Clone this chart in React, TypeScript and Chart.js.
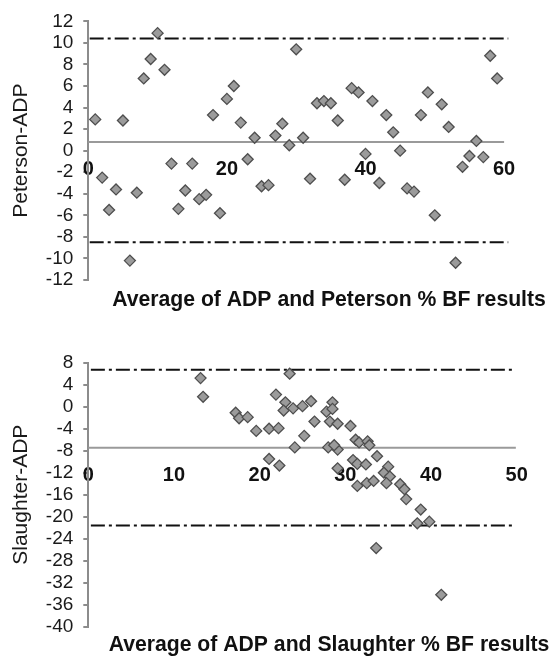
import React, { useEffect, useRef } from 'react';
import { Chart, registerables } from 'chart.js';

Chart.register(...registerables);

const FONT = "'Liberation Sans', Arial, Helvetica, sans-serif";

// ---- Peterson vs ADP (Bland-Altman) ----
const petersonAvg = [
  1, 2, 3, 4, 5, 6, 7, 8, 9, 10, 11, 12, 13, 14, 15, 16, 17, 18, 19, 20,
  21, 22, 23, 24, 25, 26, 27, 28, 29, 30, 31, 32, 33, 34, 35, 36, 37, 38, 39, 40,
  41, 42, 43, 44, 45, 46, 47, 48, 49, 50, 51, 52, 53, 54, 55, 56, 57, 58, 59,
];
const petersonDiff = [
  2.9, -2.5, -5.5, -3.6, 2.8, -10.2, -3.9, 6.7, 8.5, 10.9, 7.5, -1.2, -5.4, -3.7, -1.2, -4.5, -4.1, 3.3, -5.8, 4.8,
  6.0, 2.6, -0.8, 1.2, -3.3, -3.2, 1.4, 2.5, 0.5, 9.4, 1.2, -2.6, 4.4, 4.6, 4.4, 2.8, -2.7, 5.8, 5.4, -0.3,
  4.6, -3.0, 3.3, 1.7, 0.0, -3.5, -3.8, 3.3, 5.4, -6.0, 4.3, 2.2, -10.4, -1.5, -0.5, 0.9, -0.6, 8.8, 6.7,
];
const petersonMean = 0.8;
const petersonUpper = 10.4;
const petersonLower = -8.5;
const petersonMeanSpan = [0, 60];
const petersonLimitSpan = [0.2, 60.6];

// ---- Slaughter vs ADP (Bland-Altman) ----
const slaughterAvg = [
  13.1, 13.4, 17.2, 17.6, 18.6, 19.6, 21.1, 22.2, 21.1, 22.3, 21.9, 23.5, 23.0, 22.8, 23.9, 25.0, 26.0, 26.4,
  25.2, 24.1, 28.0, 27.8, 28.5, 28.5, 28.2, 29.1, 29.1, 28.7, 29.1, 30.6, 31.2, 31.6, 32.6, 32.8, 30.9, 31.4,
  32.4, 33.7, 31.4, 32.5, 33.3, 35.0, 34.5, 35.2, 34.8, 36.4, 36.9, 37.1, 38.8, 38.4, 39.8, 33.6, 41.2,
];
const slaughterDiff = [
  5.2, 1.8, -1.1, -2.1, -1.9, -4.4, -4.0, -3.9, -9.5, -10.7, 2.2, 6.0, 0.8, -0.7, -0.3, 0.1, 1.0, -2.7,
  -5.3, -7.4, -7.4, -0.9, 0.8, -0.4, -2.7, -3.1, -7.8, -7.0, -11.2, -3.5, -6.0, -6.5, -6.3, -7.0, -9.7, -10.4,
  -10.5, -9.0, -14.4, -13.9, -13.5, -10.9, -12.0, -12.7, -13.9, -14.1, -15.0, -16.8, -18.7, -21.2, -20.9, -25.7, -34.2,
];
const slaughterMean = -7.45;
const slaughterUpper = 6.7;
const slaughterLower = -21.6;
const slaughterMeanSpan = [0, 49.9];
const slaughterLimitSpan = [0.3, 49.6];

const panels = [
  {
    key: 'peterson',
    height: 320,
    avg: petersonAvg,
    diff: petersonDiff,
    mean: petersonMean,
    upper: petersonUpper,
    lower: petersonLower,
    meanSpan: petersonMeanSpan,
    limitSpan: petersonLimitSpan,
    x: { min: 0, max: 60, step: 20, cross: 0 },
    y: { min: -12, max: 12, step: 2 },
    yTitle: 'Peterson-ADP',
    xTitle: 'Average of ADP and Peterson % BF results',
    padding: { top: 21.3, right: 49.9, bottom: 40, left: 0 },
    captionY: 306,
  },
  {
    key: 'slaughter',
    height: 337,
    avg: slaughterAvg,
    diff: slaughterDiff,
    mean: slaughterMean,
    upper: slaughterUpper,
    lower: slaughterLower,
    meanSpan: slaughterMeanSpan,
    limitSpan: slaughterLimitSpan,
    x: { min: 0, max: 50, step: 10, cross: -9 },
    y: { min: -40, max: 8, step: 4 },
    yTitle: 'Slaughter-ADP',
    xTitle: 'Average of ADP and Slaughter % BF results',
    padding: { top: 42.7, right: 37.3, bottom: 30.3, left: 0 },
    captionY: 331,
  },
];

// Bold caption under the plot, centred a little to the right of the plot area
const axisCaption = {
  id: 'axisCaption',
  afterDraw(chart: any, _args: any, opts: any) {
    const { ctx } = chart;
    ctx.save();
    ctx.font = `bold ${opts.size}px ${FONT}`;
    ctx.fillStyle = opts.color;
    ctx.textAlign = 'center';
    ctx.textBaseline = 'alphabetic';
    ctx.fillText(opts.text, opts.x, opts.y);
    ctx.restore();
  },
};

const zeroPadding = (scale: any) => {
  scale.paddingLeft = 0;
  scale.paddingRight = 0;
  scale.paddingTop = 0;
  scale.paddingBottom = 0;
};

function hLine(span: number[], value: number) {
  return [
    { x: span[0], y: value },
    { x: span[1], y: value },
  ];
}

function buildConfig(p: any): any {
  const points = p.avg.map((v: number, i: number) => ({ x: v, y: p.diff[i] }));
  return {
    type: 'scatter',
    data: {
      datasets: [
        {
          type: 'line',
          data: hLine(p.meanSpan, p.mean),
          borderColor: '#9a9a9a',
          borderWidth: 2,
          pointRadius: 0,
          clip: false,
          order: 3,
        },
        {
          type: 'line',
          data: hLine(p.limitSpan, p.upper),
          borderColor: '#111111',
          borderWidth: 2,
          borderDash: [14, 4, 3, 4],
          pointRadius: 0,
          clip: false,
          order: 2,
        },
        {
          type: 'line',
          data: hLine(p.limitSpan, p.lower),
          borderColor: '#111111',
          borderWidth: 2,
          borderDash: [14, 4, 3, 4],
          pointRadius: 0,
          clip: false,
          order: 2,
        },
        {
          type: 'scatter',
          data: points,
          pointStyle: 'rectRot',
          pointRadius: 5.5,
          backgroundColor: '#9b9b9b',
          borderColor: '#4e4e4e',
          borderWidth: 1.3,
          clip: false,
          order: 1,
        },
      ],
    },
    options: {
      animation: false,
      responsive: true,
      maintainAspectRatio: false,
      layout: { padding: p.padding },
      plugins: {
        legend: { display: false },
        tooltip: { enabled: false },
        axisCaption: { text: p.xTitle, x: 329, y: p.captionY, size: 21.2, color: '#111111' },
      },
      scales: {
        x: {
          type: 'linear',
          position: { y: p.x.cross },
          min: p.x.min,
          max: p.x.max,
          grid: { display: false, drawTicks: false },
          border: { display: false },
          ticks: {
            stepSize: p.x.step,
            maxRotation: 0,
            autoSkip: false,
            padding: 7,
            color: '#111111',
            font: { family: FONT, size: 20, weight: 'bold' },
          },
          afterFit: (scale: any) => {
            zeroPadding(scale);
            scale.height = 0;
          },
        },
        y: {
          type: 'linear',
          position: 'left',
          min: p.y.min,
          max: p.y.max,
          grid: {
            drawOnChartArea: false,
            drawTicks: true,
            tickLength: 5,
            color: '#8c8c8c',
            lineWidth: 2,
          },
          border: { display: true, color: '#8c8c8c', width: 2 },
          ticks: {
            stepSize: p.y.step,
            autoSkip: false,
            padding: 10,
            color: '#1a1a1a',
            font: { family: FONT, size: 19 },
          },
          title: {
            display: true,
            text: p.yTitle,
            color: '#1a1a1a',
            font: { family: FONT, size: 21 },
            padding: { top: 8.4, bottom: 0 },
          },
          afterFit: (scale: any) => {
            zeroPadding(scale);
            scale.width = 88.3;
          },
        },
      },
    },
    plugins: [axisCaption],
  };
}

function Panel({ spec }: { spec: any }) {
  const ref = useRef<HTMLCanvasElement>(null);
  useEffect(() => {
    if (!ref.current) return;
    const chart = new Chart(ref.current, buildConfig(spec));
    return () => chart.destroy();
  }, [spec]);
  return (
    <div style={{ position: 'relative', width: 554, height: spec.height }}>
      <canvas ref={ref} />
    </div>
  );
}

export default function App() {
  return (
    <div style={{ position: 'absolute', left: 0, top: 0, width: 554, height: 657, background: '#ffffff' }}>
      {panels.map((p) => (
        <Panel key={p.key} spec={p} />
      ))}
    </div>
  );
}
